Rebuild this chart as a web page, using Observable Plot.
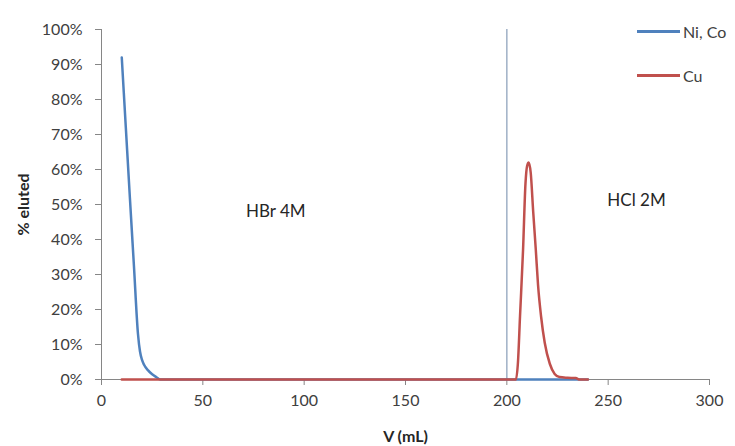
<!DOCTYPE html>
<html>
<head>
<meta charset="utf-8">
<script src="https://cdn.jsdelivr.net/npm/d3@7"></script>
<script src="https://cdn.jsdelivr.net/npm/@observablehq/plot@0.6"></script>
<style>
  html, body { margin: 0; padding: 0; background: #fff; }
  #wrap { position: relative; width: 735px; height: 446px; font-family: Lato, "Open Sans", sans-serif; }
  #wrap svg [aria-label="y-axis label"] text,
  #wrap svg [aria-label="x-axis label"] text { font-weight: bold; fill: #262626; }
  .leg { position: absolute; left: 637px; font-size: 16px; color: #404040; display: flex; align-items: center; }
  .leg span.sw { display: inline-block; width: 43px; height: 3px; margin-right: 3px; }
</style>
</head>
<body>
<div id="wrap"></div>
<script>
// Data (V in mL, fraction eluted)
const seriesNames = ["Ni, Co", "Cu"];
const seriesColors = ["#4f81bd", "#c0504d"];
const niCoVolume = [10, 12, 14, 16, 18, 19, 20, 21, 23, 25, 27, 29, 200, 240];
const niCoPct    = [0.92, 0.72, 0.52, 0.325, 0.13, 0.08, 0.056, 0.042, 0.026, 0.015, 0.007, 0.0, 0.0, 0.0];
const cuVolume   = [10, 200, 204.5, 205.5, 206.5, 208, 209.2, 210, 210.8, 211.8, 213, 214.3, 215.4, 216.9, 218.7, 221.2, 223.6, 226, 230, 234, 236, 240];
const cuPct      = [0.0, 0.0, 0.0, 0.05, 0.18, 0.37, 0.56, 0.61, 0.62, 0.59, 0.48, 0.37, 0.27, 0.18, 0.105, 0.045, 0.016, 0.007, 0.005, 0.004, 0.0, 0.0];
const eluentSwitch = [200];
const eluentLabels = ["HBr 4M", "HCl 2M"];
const eluentLabelX = [86, 264];
const eluentLabelY = [0.48, 0.51];
const xTicks = [0, 50, 100, 150, 200, 250, 300];
const yTicks = [0, 0.1, 0.2, 0.3, 0.4, 0.5, 0.6, 0.7, 0.8, 0.9, 1.0];

const niCo = niCoVolume.map((v, i) => ({v, p: niCoPct[i]}));
const cu = cuVolume.map((v, i) => ({v, p: cuPct[i]}));
const labels = eluentLabels.map((t, i) => ({t, x: eluentLabelX[i], y: eluentLabelY[i]}));

const axisGray = "#868686";
const chart = Plot.plot({
  width: 735,
  height: 446,
  marginLeft: 101,
  marginRight: 26,
  marginTop: 29,
  marginBottom: 67,
  style: {fontFamily: "Lato, 'Open Sans', sans-serif", fontSize: "16px", color: "#404040", background: "#fff"},
  x: {domain: [0, 300]},
  y: {domain: [0, 1]},
  marks: [
    Plot.ruleX(eluentSwitch, {stroke: "#9fb0c6", strokeWidth: 1.5}),
    Plot.ruleY([0], {stroke: axisGray}),
    Plot.ruleX([0], {stroke: axisGray}),
    Plot.axisX({ticks: xTicks, tickSize: 6, tickPadding: 9, stroke: axisGray, fill: "#404040",
      label: "V (mL)", labelAnchor: "center", labelArrow: "none", labelOffset: 62}),
    Plot.axisY({ticks: yTicks, tickFormat: d3.format(".0%"), tickSize: 6, tickPadding: 13, stroke: axisGray, fill: "#404040",
      label: "% eluted", labelAnchor: "center", labelArrow: "none", labelOffset: 84}),
    Plot.line(niCo, {x: "v", y: "p", stroke: seriesColors[0], strokeWidth: 2.5, curve: "monotone-x"}),
    Plot.line(cu, {x: "v", y: "p", stroke: seriesColors[1], strokeWidth: 2.5, curve: "monotone-x"}),
    Plot.text(labels, {x: "x", y: "y", text: "t", fontSize: 17, fill: "#262626"})
  ]
});
const wrap = document.getElementById("wrap");
wrap.appendChild(chart);
const legTops = [22, 66];
seriesNames.forEach((name, i) => {
  const d = document.createElement("div");
  d.className = "leg";
  d.style.top = legTops[i] + "px";
  d.innerHTML = `<span class="sw" style="background:${seriesColors[i]}"></span>${name}`;
  wrap.appendChild(d);
});
</script>
</body>
</html>
